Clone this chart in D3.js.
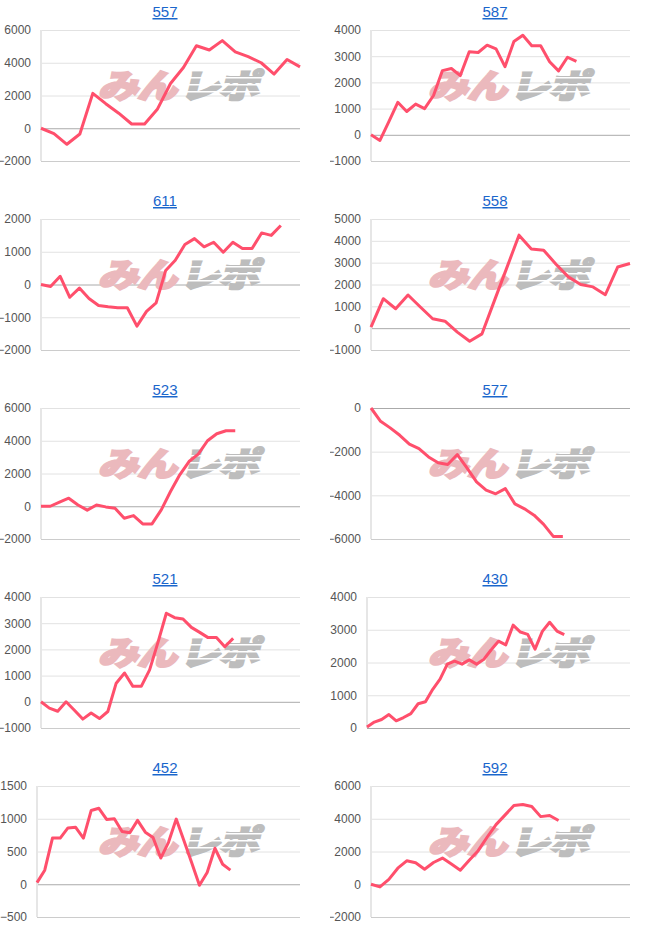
<!DOCTYPE html>
<html><head><meta charset="utf-8">
<script src="https://cdn.jsdelivr.net/npm/d3@7"></script>
<style>
body{margin:0;background:#fff;width:660px;height:945px;position:relative;overflow:hidden;font-family:Arial,"Liberation Sans",sans-serif}
svg.panel{position:absolute;overflow:hidden}
</style></head><body>
<script>
// chart titles (machine numbers)
const titles = ["557","587","611","558","523","577","521","430","452","592"];
// y tick values per chart
const ticks557 = [-2000,0,2000,4000,6000];
const ticks587 = [-1000,0,1000,2000,3000,4000];
const ticks611 = [-2000,-1000,0,1000,2000];
const ticks558 = [-1000,0,1000,2000,3000,4000,5000];
const ticks523 = [-2000,0,2000,4000,6000];
const ticks577 = [-6000,-4000,-2000,0];
const ticks521 = [-1000,0,1000,2000,3000,4000];
const ticks430 = [0,1000,2000,3000,4000];
const ticks452 = [-500,0,500,1000,1500];
const ticks592 = [-2000,0,2000,4000,6000];
// x-axis slot counts (intervals) per chart
const slots = [20,29,27,21,28,27,31,36,34,29];
// series values
const s557 = [0,-330,-980,-350,2130,1500,920,260,260,1180,2730,3710,5040,4780,5350,4670,4370,4000,3310,4200,3750];
const s587 = [0,-215,500,1240,890,1170,1000,1500,2450,2530,2260,3170,3140,3420,3280,2600,3560,3800,3400,3400,2790,2440,2960,2800];
const s611 = [0,-60,250,-390,-110,-430,-640,-680,-710,-710,-1270,-820,-560,430,740,1220,1400,1150,1290,985,1290,1100,1100,1575,1500,1800];
const s558 = [50,1350,890,1520,970,430,320,-180,-600,-260,1250,2750,4260,3630,3570,2930,2350,2000,1890,1530,2800,2960];
const s523 = [0,0,250,490,80,-240,80,-40,-120,-730,-570,-1080,-1080,-220,900,1920,2730,3180,4000,4430,4610,4610];
const s577 = [0,-610,-910,-1250,-1650,-1860,-2240,-2510,-2590,-2130,-2740,-3380,-3760,-3930,-3690,-4390,-4620,-4910,-5330,-5880,-5880];
const s521 = [0,-240,-360,0,-320,-660,-430,-640,-370,710,1100,590,590,1220,2270,3380,3210,3160,2840,2650,2450,2450,2100,2420];
const s430 = [30,180,260,410,220,320,440,740,800,1180,1490,1950,2040,1950,2080,1950,2100,2390,2650,2540,3140,2930,2860,2410,2950,3230,2960,2850];
const s452 = [25,215,705,705,860,870,705,1125,1160,990,1000,805,785,975,795,715,400,640,995,665,330,-15,180,550,305,215];
const s592 = [0,-160,300,980,1430,1310,920,1330,1600,1230,860,1470,2050,2870,3640,4220,4810,4870,4750,4130,4200,3890];

const series = [s557,s587,s611,s558,s523,s577,s521,s430,s452,s592];
const tickSets = [ticks557,ticks587,ticks611,ticks558,ticks523,ticks577,ticks521,ticks430,ticks452,ticks592];
const plotLeft = [41,41,41,41,41,41,41,37,37,41];

const PW = 330, PH = 189;
const LINE = "#ff4f6c";

series.forEach((vals, i) => {
  const col = i % 2, row = Math.floor(i / 2);
  const svg = d3.select("body").append("svg")
    .attr("class","panel")
    .attr("width", PW).attr("height", PH)
    .style("left", (col*PW)+"px").style("top", (row*PH)+"px");

  const tks = tickSets[i];
  const x = d3.scaleLinear().domain([0, slots[i]]).range([plotLeft[i], 300]);
  const y = d3.scaleLinear().domain([d3.min(tks), d3.max(tks)]).range([161, 30]);

  // title
  svg.append("text").attr("x", 165).attr("y", 17)
    .attr("text-anchor","middle").attr("font-size", 15)
    .attr("fill", "#1a66cc").attr("text-decoration","underline")
    .text(titles[i]);

  // gridlines + tick labels
  const axis = d3.axisLeft(y).tickValues(tks).tickSize(-(300 - plotLeft[i])).tickPadding(10).tickFormat(d3.format("d"));
  const g = svg.append("g").attr("transform", `translate(${plotLeft[i]},0)`).call(axis);
  g.select(".domain").remove();
  g.selectAll(".tick line").attr("stroke", d => d === 0 ? "#aaa" : (d === d3.min(tks) ? "#ccc" : "#e2e2e2")).attr("stroke-width",1);
  g.selectAll(".tick text").attr("fill","#555").attr("font-size",12).attr("font-family","Arial, 'Liberation Sans', sans-serif");

  // left vertical axis line
  svg.append("line").attr("x1", plotLeft[i]).attr("x2", plotLeft[i]).attr("y1", 30).attr("y2", 161)
    .attr("stroke", "#e6e6e6").attr("stroke-width", 2);

  // watermark
  const wm = svg.append("g").attr("transform","translate(98,98) skewX(-14) scale(1.22,1)");
  wm.append("text").attr("x", 0).attr("y", 0).attr("font-size", 33).attr("font-weight", 900)
    .attr("font-family","'Noto Sans CJK JP', sans-serif").attr("fill", "#ebb9bd")
    .attr("stroke", "#ebb9bd").attr("stroke-width", 2.2).attr("letter-spacing", -1)
    .text("みん");
  wm.append("text").attr("x", 67).attr("y", 0).attr("font-size", 33).attr("font-weight", 900)
    .attr("font-family","'Noto Sans CJK JP', sans-serif").attr("fill", "#bdbdbd")
    .attr("stroke", "#bdbdbd").attr("stroke-width", 2.2).attr("letter-spacing", -1)
    .text("レポ");
  [-21,-14,-7].forEach(dy => {
    wm.append("rect").attr("x", 66).attr("y", dy).attr("width", 70).attr("height", 1.5).attr("fill", "#fff");
  });

  // line
  const line = d3.line().x((d, k) => x(k)).y(d => y(d));
  svg.append("path").datum(vals).attr("d", line)
    .attr("fill","none").attr("stroke", LINE).attr("stroke-width", 3)
    .attr("stroke-linejoin","round");
});
</script>
</body></html>
